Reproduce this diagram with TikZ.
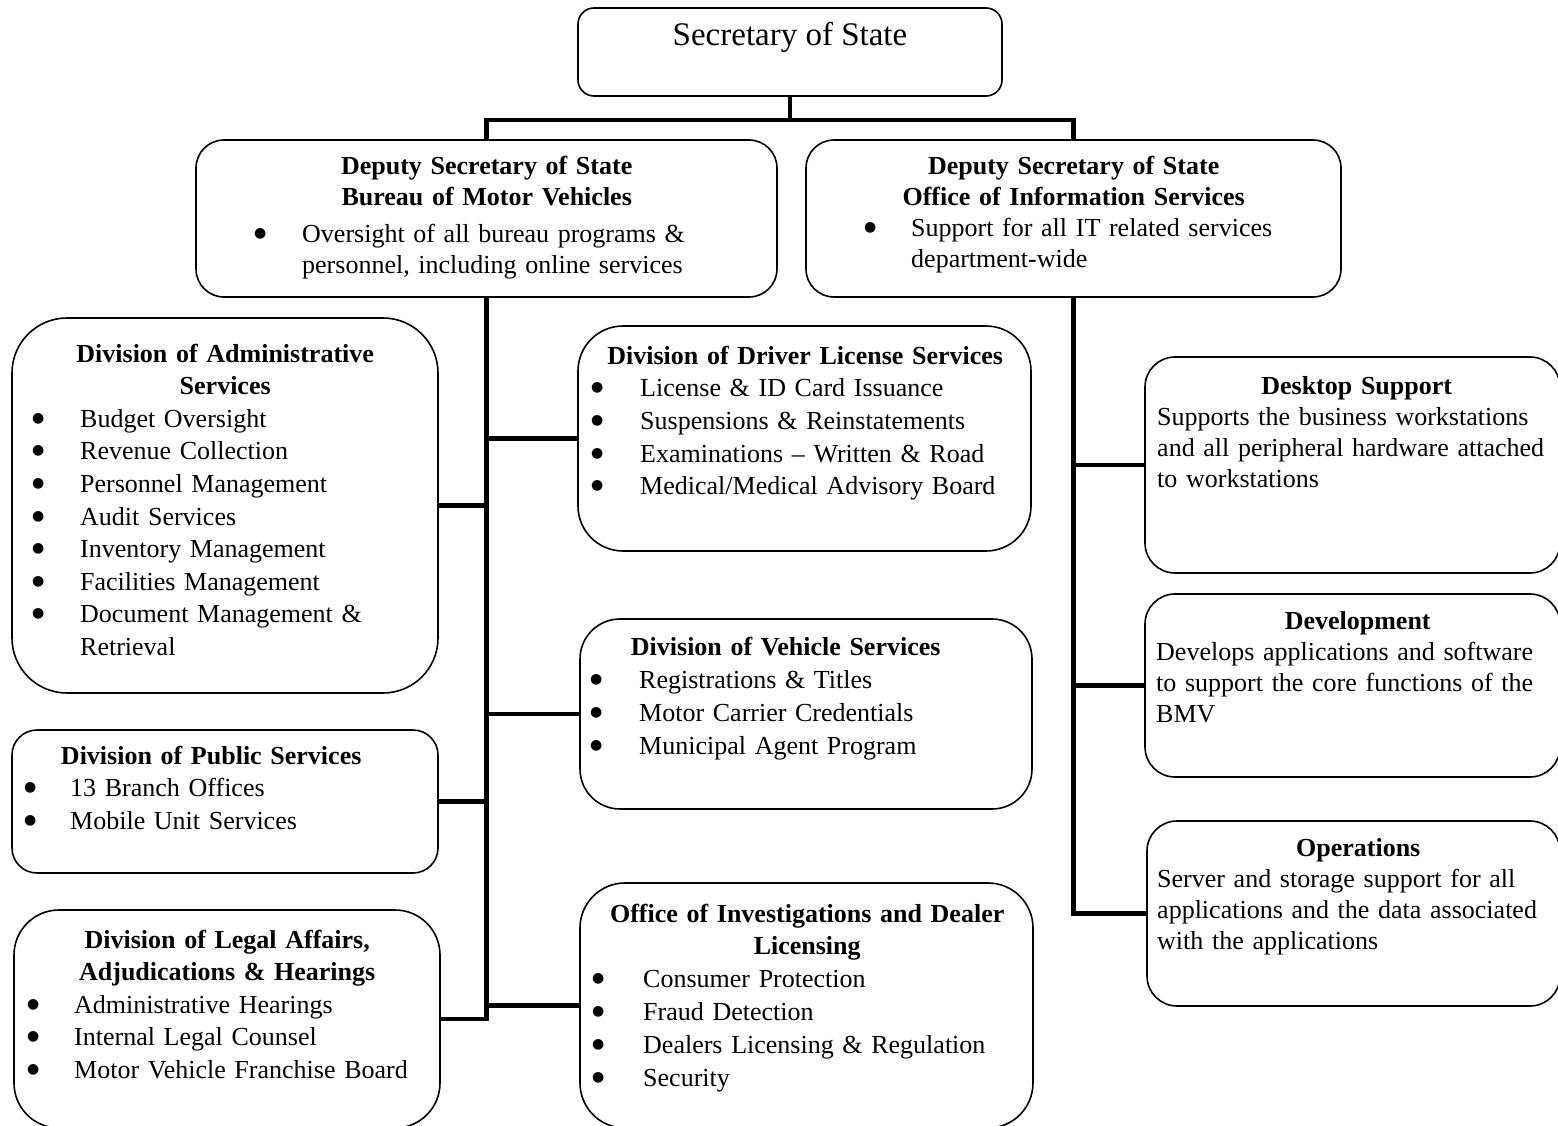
\documentclass[tikz,border=0pt]{standalone}
\usepackage{fontspec}
\setmainfont{Liberation Serif}
\newfontfamily\symfont{DejaVu Sans}
\usetikzlibrary{calc}

% list bullet: a solid round dot
\newcommand\dotmark{\raisebox{5pt}{\symfont\fontsize{14}{14}\selectfont ●}}
% centred bold heading at a given offset from the text block's left edge
\newcommand\hdl[2]{\hspace*{#1pt}\makebox[0pt]{\bfseries #2}}
% bullet centred at #1, item text starting at #2
\newcommand\bul[3]{\hspace*{#1pt}\makebox[0pt]{\dotmark}\hspace*{\dimexpr#2pt-#1pt\relax}#3}
% plain indented line
\newcommand\ind[2]{\hspace*{#1pt}#2}

\tikzset{
  box/.style={draw, line width=1.6pt, rounded corners=#1, outer sep=0pt,
              inner sep=0pt, fill=white, anchor=north west},
  box/.default=25pt,
  txt/.style={anchor=base west, inner sep=0pt, align=left, text width=560pt,
              font=\fontsize{26}{#1}\selectfont},
  txt/.default=32.6,
  conn/.style={line width=4.5pt, line join=miter},
}

\begin{document}
\begin{tikzpicture}[x=1pt,y=-1pt]
\useasboundingbox (0,0) rectangle (1558,1126);
\fill[white] (0,0) rectangle (1558,1126);
\clip (0,0) rectangle (1558,1126);

% ---- boxes ----
\node[box=16pt, minimum width=424pt, minimum height=88pt]  (sec) at (578,8) {};
\node[box=28pt, minimum width=581pt, minimum height=157pt] (bmv) at (196,140) {};
\node[box=28pt, minimum width=535pt, minimum height=157pt] (ois) at (806,140) {};

\node[box=55pt, minimum width=426pt, minimum height=375pt] (adm) at (12,318) {};
\node[box=25pt, minimum width=426pt, minimum height=143pt] (pub) at (12,730) {};
\node[box=45pt, minimum width=426pt, minimum height=218pt] (leg) at (14,910) {};

\node[box=45pt, minimum width=453pt, minimum height=225pt] (dls) at (578,326) {};
\node[box=40pt, minimum width=452pt, minimum height=190pt] (veh) at (580,619) {};
\node[box=45pt, minimum width=453pt, minimum height=245pt] (inv) at (580,883) {};

\node[box=30pt, minimum width=415pt, minimum height=216pt] (dsk) at (1145,357) {};
\node[box=30pt, minimum width=415pt, minimum height=183pt] (dev) at (1145,594) {};
\node[box=30pt, minimum width=413pt, minimum height=185pt] (ops) at (1147,821) {};

% ---- connectors ----
\coordinate (j) at ($(sec.south)+(0,24)$);
\draw[conn] (sec.south) -- (j);
\draw[conn] (bmv.north) -- (bmv.north |- j) -- (ois.north |- j) -- (ois.north);

\draw[conn] (bmv.south) |- (leg.east);
\draw[conn] (bmv.south |- adm.east) -- (adm.east);
\draw[conn] (bmv.south |- pub.east) -- (pub.east);
\draw[conn] (bmv.south |- dls.west) -- (dls.west);
\draw[conn] (bmv.south |- veh.west) -- (veh.west);
\draw[conn] (bmv.south |- inv.west) -- (inv.west);

\draw[conn] (ois.south) |- (ops.west);
\draw[conn] (ois.south |- dsk.west) -- (dsk.west);
\draw[conn] (ois.south |- dev.west) -- (dev.west);

% ---- texts ----
\node[anchor=base, inner sep=0pt, font=\fontsize{33}{38}\selectfont] (sect) at (790,46) {Secretary of State};

\node[txt=31] (bmvt) at (196,175) {\hdl{290.5}{Deputy Secretary of State}\\
  \hdl{290.5}{Bureau of Motor Vehicles}\\[6pt]
  \bul{64}{106}{Oversight of all bureau programs \&}\\
  \ind{106}{personnel, including online services}};

\node[txt=31] (oist) at (806,175) {\hdl{267.5}{Deputy Secretary of State}\\
  \hdl{267.5}{Office of Information Services}\\
  \bul{64}{105}{Support for all IT related services}\\
  \ind{105}{department-wide}};

\node[txt=32.6] (admt) at (12,362) {\hdl{213}{Division of Administrative}\\
  \hdl{213}{Services}\\
  \bul{26}{68}{Budget Oversight}\\
  \bul{26}{68}{Revenue Collection}\\
  \bul{26}{68}{Personnel Management}\\
  \bul{26}{68}{Audit Services}\\
  \bul{26}{68}{Inventory Management}\\
  \bul{26}{68}{Facilities Management}\\
  \bul{26}{68}{Document Management \&}\\
  \ind{68}{Retrieval}};

\node[txt=32.5] (pubt) at (12,764) {\hdl{199}{Division of Public Services}\\
  \bul{18}{58}{13 Branch Offices}\\
  \bul{18}{58}{Mobile Unit Services}};

\node[txt=32.5] (legt) at (14,948) {\hdl{213}{Division of Legal Affairs,}\\
  \hdl{213}{Adjudications \& Hearings}\\
  \bul{19}{60}{Administrative Hearings}\\
  \bul{19}{60}{Internal Legal Counsel}\\
  \bul{19}{60}{Motor Vehicle Franchise Board}};

\node[txt=32.7] (dlst) at (578,364) {\hdl{227}{Division of Driver License Services}\\
  \bul{19}{62}{License \& ID Card Issuance}\\
  \bul{19}{62}{Suspensions \& Reinstatements}\\
  \bul{19}{62}{Examinations -- Written \& Road}\\
  \bul{19}{62}{Medical/Medical Advisory Board}};

\node[txt=33] (veht) at (580,655) {\hdl{205.5}{Division of Vehicle Services}\\
  \bul{16}{59}{Registrations \& Titles}\\
  \bul{16}{59}{Motor Carrier Credentials}\\
  \bul{16}{59}{Municipal Agent Program}};

\node[txt=32.8] (invt) at (580,922) {\hdl{227}{Office of Investigations and Dealer}\\
  \hdl{227}{Licensing}\\
  \bul{18}{63}{Consumer Protection}\\
  \bul{18}{63}{Fraud Detection}\\
  \bul{18}{63}{Dealers Licensing \& Regulation}\\
  \bul{18}{63}{Security}};

\node[txt=31.3] (dskt) at (1145,394) {\hdl{211.5}{Desktop Support}\\
  \ind{12}{Supports the business workstations}\\
  \ind{12}{and all peripheral hardware attached}\\
  \ind{12}{to workstations}};

\node[txt=31] (devt) at (1145,629) {\hdl{212.5}{Development}\\
  \ind{11}{Develops applications and software}\\
  \ind{11}{to support the core functions of the}\\
  \ind{11}{BMV}};

\node[txt=31] (opst) at (1147,856) {\hdl{211}{Operations}\\
  \ind{10}{Server and storage support for all}\\
  \ind{10}{applications and the data associated}\\
  \ind{10}{with the applications}};
\end{tikzpicture}
\end{document}
